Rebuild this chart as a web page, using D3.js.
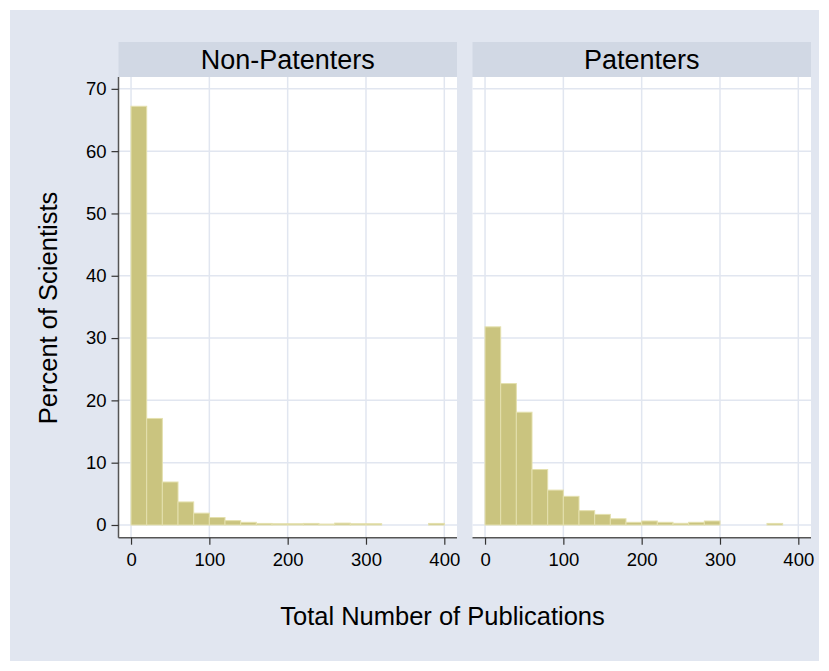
<!DOCTYPE html>
<html>
<head>
<meta charset="utf-8">
<script src="https://cdn.jsdelivr.net/npm/d3@7"></script>
<style>
 body { margin:0; background:#fff; }
 text { font-family:"Liberation Sans", Arial, sans-serif; fill:#000; }
</style>
</head>
<body>
<div class="featured"></div>
<script>
// histogram bins, width 20
var binStarts = [0,20,40,60,80,100,120,140,160,180,200,220,240,260,280,300,320,340,360,380];
var binWidth = 20;
var nonPatenters = [67.2,17.1,6.9,3.7,1.9,1.2,0.7,0.43,0.25,0.2,0.2,0.25,0.15,0.3,0.2,0.2,0,0,0,0.25];
var patenters = [31.8,22.7,18.1,8.9,5.6,4.6,2.3,1.7,1.0,0.43,0.64,0.43,0.27,0.43,0.64,0,0,0,0.25,0];
var panelNames = ["Non-Patenters","Patenters"];
var xTicks = [0,100,200,300,400];
var yTicks = [0,10,20,30,40,50,60,70];

var W = 829, H = 671;
var svg = d3.select(".featured").append("svg")
    .attr("width",W)
    .attr("height",H);

// outer graph region
svg.append("rect").attr("x",10).attr("y",10).attr("width",W-20).attr("height",H-20)
   .attr("fill","#e1e6f0");

var plotTop = 77, plotBottom = 537.7;
var y = d3.scaleLinear().domain([-2.04,71.9]).range([plotBottom,plotTop]);
var panels = [
  {name:panelNames[0], vals:nonPatenters, left:118.5, right:457},
  {name:panelNames[1], vals:patenters, left:472.5, right:811}
];

panels.forEach(function(p,i){
  var x = d3.scaleLinear().domain([-16,416.2]).range([p.left,p.right]);
  var g = svg.append("g");

  // strip
  g.append("rect").attr("x",p.left).attr("y",42).attr("width",p.right-p.left).attr("height",plotTop-42)
   .attr("fill","#d1d8e4");
  g.append("text").attr("x",(p.left+p.right)/2).attr("y",69)
   .attr("text-anchor","middle").style("font-size","27px").text(p.name);

  // plot area
  g.append("rect").attr("x",p.left).attr("y",plotTop).attr("width",p.right-p.left).attr("height",plotBottom-plotTop)
   .attr("fill","#fff");

  // grid
  g.selectAll(".hg").data(yTicks).enter().append("line")
   .attr("x1",p.left).attr("x2",p.right)
   .attr("y1",function(d){return y(d);}).attr("y2",function(d){return y(d);})
   .attr("stroke","#e1e6f0").attr("stroke-width",1.5);
  g.selectAll(".vg").data(xTicks).enter().append("line")
   .attr("y1",plotTop).attr("y2",plotBottom)
   .attr("x1",function(d){return x(d);}).attr("x2",function(d){return x(d);})
   .attr("stroke","#e1e6f0").attr("stroke-width",1.5);

  // bars
  var bins = binStarts.map(function(b,j){ return {x0:b, v:p.vals[j]}; })
      .filter(function(d){ return d.v > 0; });
  g.selectAll(".bar").data(bins).enter().append("rect")
   .attr("x",function(d){return x(d.x0);})
   .attr("width",function(d){return x(d.x0+binWidth)-x(d.x0);})
   .attr("y",function(d){return y(d.v);})
   .attr("height",function(d){return y(0)-y(d.v);})
   .attr("fill","#cac47f")
   .attr("stroke","#e4e0ae")
   .attr("stroke-width",1);

  // x axis
  var xa = g.append("g").attr("transform","translate(0,"+plotBottom+")")
     .call(d3.axisBottom(x).tickValues(xTicks).tickSize(7).tickPadding(8).tickSizeOuter(0));
  xa.select(".domain").attr("d","M"+p.left+",0H"+p.right).attr("stroke","#555").attr("stroke-width",1.5);
  xa.selectAll(".tick line").attr("stroke","#333").attr("stroke-width",1.2);
  xa.selectAll(".tick text").style("font-size","18.5px").attr("fill","#000");

  if(i==0){
    var ya = g.append("g").attr("transform","translate("+p.left+",0)")
       .call(d3.axisLeft(y).tickValues(yTicks).tickSize(7).tickPadding(5).tickSizeOuter(0));
    ya.select(".domain").attr("d","M0,"+plotTop+"V"+plotBottom).attr("stroke","#555").attr("stroke-width",1.5);
    ya.selectAll(".tick line").attr("stroke","#333").attr("stroke-width",1.2);
    ya.selectAll(".tick text").style("font-size","18.5px").attr("fill","#000");
  }
});

svg.append("text").attr("x",442.5).attr("y",625).attr("text-anchor","middle")
   .style("font-size","25.5px").text("Total Number of Publications");
svg.append("text").attr("transform","translate(57,308) rotate(-90)").attr("text-anchor","middle")
   .style("font-size","25.5px").text("Percent of Scientists");
</script>
</body>
</html>
